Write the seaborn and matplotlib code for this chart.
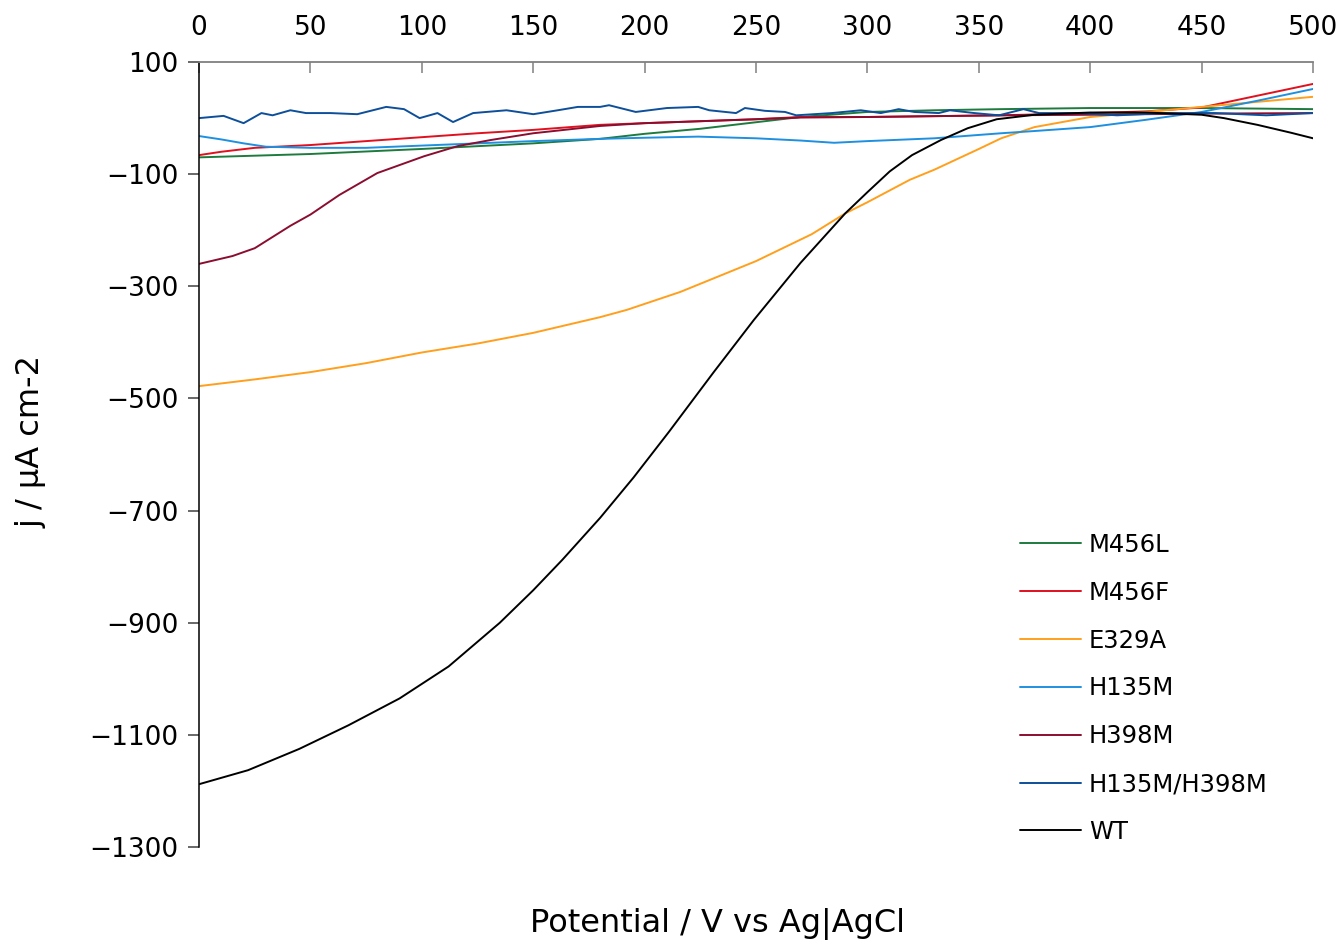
import matplotlib
matplotlib.use("Agg")
import matplotlib.pyplot as plt
import pandas as pd
import seaborn as sns

# Linear sweep voltammetry: current density vs. potential for each variant
series_names = ["M456L", "M456F", "E329A", "H135M", "H398M", "H135M/H398M", "WT"]
series_colors = ["#1e7b3e", "#e0101e", "#ff9f1c", "#1e90e0", "#8b0d30", "#0d4f9a", "#000000"]

m456l_x = [0, 50, 100, 150, 180, 200, 225, 240, 270, 300, 330, 360, 400, 450, 500]
m456l_y = [-70, -64, -55, -45, -37, -28, -19, -12, 2, 11, 14, 16, 18, 18, 16]

m456f_x = [0, 10, 25, 50, 75, 100, 125, 150, 180, 200, 250, 270, 300, 360, 400, 425, 450, 475, 500]
m456f_y = [-66, -60, -53, -48, -41, -34, -27, -21, -12, -9, -2, 2, 2, 5, 9, 12, 19, 40, 61]

e329a_x = [0, 25, 50, 75, 100, 125, 150, 180, 192, 216, 250, 275, 290, 300, 319, 330, 350, 360, 375, 400, 425, 450, 475, 500]
e329a_y = [-478, -466, -453, -437, -418, -402, -383, -355, -342, -310, -255, -207, -170, -150, -110, -92, -55, -36, -16, 2, 11, 20, 29, 38]

h135m_x = [0, 10, 20, 30, 50, 75, 100, 125, 150, 180, 200, 224, 250, 270, 285, 300, 330, 360, 375, 400, 425, 450, 475, 500]
h135m_y = [-32, -38, -45, -51, -53, -53, -49, -45, -41, -37, -35, -33, -36, -40, -44, -41, -36, -27, -23, -16, -3, 11, 31, 52]

h398m_x = [0, 15, 25, 41, 50, 63, 80, 101, 116, 131, 150, 180, 200, 250, 270, 300, 360, 400, 450, 500]
h398m_y = [-260, -246, -232, -192, -172, -137, -98, -68, -50, -39, -27, -14, -9, -2, 1, 2, 5, 6, 8, 9]

double_x = [0, 11, 20, 28, 33, 41, 48, 59, 71, 84, 92, 99, 107, 114, 123, 138, 150, 161, 170, 180,
            184, 196, 210, 224, 229, 241, 245, 254, 263, 268, 284, 297, 306, 314, 321, 332, 337, 348,
            359, 370, 377, 395, 412, 434, 456, 479, 500]
double_y = [0, 4, -9, 9, 5, 14, 9, 9, 7, 20, 16, 0, 9, -7, 9, 14, 7, 14, 20, 20,
            23, 11, 18, 20, 14, 9, 18, 13, 11, 5, 9, 14, 9, 16, 11, 9, 14, 9,
            5, 16, 9, 9, 5, 9, 9, 5, 9]

wt_x = [0, 22, 45, 67, 90, 112, 135, 150, 163, 180, 195, 211, 231, 249, 270, 290, 300, 310, 320, 333,
        345, 358, 375, 400, 425, 450, 460, 475, 490, 500]
wt_y = [-1188, -1163, -1125, -1083, -1035, -978, -900, -842, -788, -713, -641, -559, -453, -360, -258,
        -170, -132, -95, -66, -39, -18, -2, 6, 10, 10, 6, 0, -12, -26, -36]

x_ticks = [0, 50, 100, 150, 200, 250, 300, 350, 400, 450, 500]
y_ticks = [100, -100, -300, -500, -700, -900, -1100, -1300]

series_xy = [
    (m456l_x, m456l_y), (m456f_x, m456f_y), (e329a_x, e329a_y), (h135m_x, h135m_y),
    (h398m_x, h398m_y), (double_x, double_y), (wt_x, wt_y),
]
frames = [
    pd.DataFrame({"potential": xs, "j": ys, "variant": name})
    for name, (xs, ys) in zip(series_names, series_xy)
]
df = pd.concat(frames, ignore_index=True)

sns.set_style("white")
plt.rcParams["font.family"] = ["DejaVu Sans"]
plt.rcParams["text.color"] = "black"

fig = plt.figure(figsize=(13.44, 9.43), dpi=100)
ax = fig.add_axes([0.1481, 0.1018, 0.8289, 0.8324])

sns.lineplot(
    data=df, x="potential", y="j", hue="variant", hue_order=series_names,
    palette=series_colors, estimator=None, sort=False, linewidth=1.4,
    legend=False, ax=ax,
)

ax.set_xlim(0, 500)
ax.set_ylim(-1300, 100)
ax.set_xticks(x_ticks)
ax.set_yticks(y_ticks)
ax.set_xlabel("")
ax.set_ylabel("")

ax.xaxis.tick_top()
ax.tick_params(axis="x", which="major", direction="in", length=8, width=1.1,
               color="#808080", labelcolor="black", pad=15, labelsize=19,
               top=True, bottom=False)
ax.tick_params(axis="y", which="major", direction="out", length=8, width=1.1,
               color="#404040", labelcolor="black", pad=7, labelsize=19,
               left=True, right=False)

for side in ("right", "bottom"):
    ax.spines[side].set_visible(False)
ax.spines["top"].set_color("#808080")
ax.spines["top"].set_linewidth(1.3)
ax.spines["left"].set_color("black")
ax.spines["left"].set_linewidth(1.1)

fig.text(0.5335, 1 - 932 / 943, "Potential / V vs Ag|AgCl", ha="center",
         va="baseline", fontsize=23, color="black")
fig.text(31 / 1344, 1 - 441 / 943, "j / μA cm-2", rotation=90, ha="center",
         va="center", fontsize=23, color="black")

handles = ax.get_lines()[:len(series_names)]
leg = ax.legend(handles, series_names, loc="upper left",
                bbox_to_anchor=(1020 / 1344, 1 - 533 / 943), bbox_transform=fig.transFigure,
                frameon=False, fontsize=17.5, handlelength=2.5, handletextpad=0.33,
                labelspacing=0.98, borderpad=0, borderaxespad=0)
for txt in leg.get_texts():
    txt.set_color("black")

fig.savefig("out.png", dpi=100)
